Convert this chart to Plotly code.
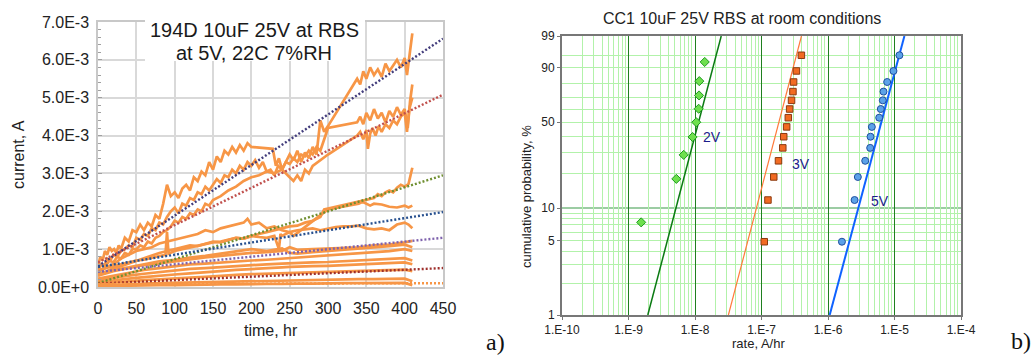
import numpy as np
import plotly.graph_objects as go

FW, FH = 1033, 356

# ---------------- Left chart (a): current vs time, current in mA ----------------
u1_t = [0,3,6,9,12,15,18,21,24,27,30,35,40,45,50,55,60,65,70,75,80,85,90,95,100,105,110,115,120,125,130,135,140,145,150,155,160,165,170,175,180,185,190,195,200,228,232,236,240,245,250,255,260,265,270,275,280,285,290,295,300,338,342,346,350,355,360,365,370,375,380,385,390,395,400,403,406,410]
u1_v = [0.55,0.8,0.7,0.95,0.85,1.05,0.95,1.0,0.9,1.1,1.0,1.3,1.2,1.5,1.45,1.65,1.5,1.7,1.6,1.9,1.8,2.2,2.7,2.4,2.5,2.35,2.6,2.7,2.55,2.9,2.8,3.05,2.95,3.3,3.1,3.45,3.3,3.6,3.5,3.7,3.55,3.75,3.6,3.8,3.7,3.65,3.2,3.4,3.1,3.3,3.5,3.35,3.6,3.3,3.55,3.4,3.7,3.5,4.4,4.1,4.25,5.5,5.35,5.7,5.5,5.8,5.6,5.75,5.55,5.9,5.7,5.85,6.0,5.8,6.05,5.6,6.1,6.7]

u2_t = [0,4,8,12,16,20,25,30,35,40,45,50,55,60,65,70,75,80,85,90,95,100,105,110,115,120,125,130,135,140,145,150,155,160,165,170,175,180,185,190,195,200,205,210,215,220,225,230,235,240,245,250,255,260,265,270,275,280,285,290,295,300,338,342,346,350,355,360,365,370,375,380,385,390,395,400,404,407,410]
u2_v = [0.45,0.6,0.55,0.75,0.7,0.85,0.8,0.95,1.0,1.1,1.05,1.3,1.25,1.4,1.35,1.55,1.5,1.7,1.65,1.85,2.0,2.1,1.95,2.2,2.15,2.35,2.3,2.5,2.45,2.65,2.55,2.7,2.85,2.75,2.95,2.9,3.1,3.0,3.2,3.1,3.3,3.2,3.35,3.15,3.3,3.05,3.1,2.95,3.2,3.1,3.3,3.25,3.4,3.3,3.5,3.45,3.6,3.5,3.7,3.6,3.9,4.2,4.35,4.5,4.3,4.6,4.4,4.7,4.45,4.6,4.35,4.65,4.5,4.75,4.55,4.7,4.2,4.9,5.35]

u3_t = [0,5,10,15,20,25,30,35,40,45,50,55,60,65,70,75,80,85,90,95,100,105,110,115,120,125,130,135,140,145,150,160,170,180,190,200,210,220,230,240,250,255,260,265,270,275,280,290,300,338,342,346,350,352,355,358,362,366,370,375,380,385,390,395,400,403,406,410]
u3_v = [0.5,0.6,0.55,0.7,0.65,0.8,0.75,0.9,0.85,1.0,1.0,1.1,1.05,1.2,1.15,1.3,1.35,1.45,1.5,1.6,1.75,1.7,1.85,1.8,1.95,1.9,2.05,2.0,2.2,2.15,2.3,2.4,2.55,2.65,2.8,2.9,2.95,3.05,3.0,3.1,2.9,2.8,2.95,2.8,3.1,3.0,3.2,3.35,3.5,4.0,4.1,3.9,4.15,3.65,4.05,4.2,4.0,4.25,4.1,4.3,4.2,4.4,4.3,4.5,4.6,4.1,4.7,5.0]

m1_t = [0,10,20,30,40,50,60,70,80,90,100,110,120,130,140,150,160,170,180,190,200,210,220,230,240,250,260,270,280,290,295,360,365,370,375,380,385,390,395,400,405,410]
m1_v = [0.3,0.4,0.5,0.55,0.62,0.7,0.75,0.82,0.9,0.95,1.0,1.05,1.1,1.08,1.15,1.2,1.18,1.25,1.3,1.28,1.35,1.4,1.45,1.5,1.55,1.6,1.62,1.7,1.75,1.85,2.05,2.35,2.45,2.4,2.5,2.55,2.5,2.62,2.7,2.65,2.72,3.15]

m2_t = [0,10,20,30,40,50,60,70,80,90,100,110,120,130,140,150,160,170,180,190,195,200,210,220,230,240,250,255,300,340,345,350,355,360,370,380,390,400,405,410]
m2_v = [0.4,0.5,0.6,0.75,0.85,0.95,1.0,1.05,1.15,1.2,1.25,1.3,1.35,1.4,1.5,1.45,1.55,1.6,1.65,1.7,1.8,1.65,1.7,1.55,1.6,1.5,1.45,1.35,2.05,2.2,2.25,2.2,2.15,2.2,2.18,2.12,2.1,2.15,2.1,2.15]

m3_t = [0,10,20,30,40,50,60,70,80,88,90,92,100,110,120,130,140,150,160,170,180,190,200,210,220,230,236,238,240,250,260,270,280,290,300,310,320,330,340,350,360,370,380,390,400,405,410]
m3_v = [0.45,0.5,0.55,0.6,0.65,0.7,0.72,0.78,0.82,0.85,1.45,0.88,0.95,1.0,1.05,1.1,1.15,1.18,1.2,1.25,1.3,1.28,1.35,1.32,1.3,1.35,1.0,1.4,1.35,1.45,1.5,1.52,1.55,1.5,1.55,1.58,1.6,1.6,1.62,1.55,1.52,1.55,1.5,1.65,1.7,1.65,1.55]

low_t = [0,20,40,60,80,100,120,140,160,180,200,220,240,250,260,280,300,320,340,360,380,400,410]
l1_v = [0.3,0.42,0.5,0.58,0.62,0.68,0.72,0.78,0.82,0.86,0.9,0.92,0.95,1.05,0.98,1.0,1.02,1.03,1.05,1.1,1.12,1.18,1.22]
l2_v = [0.35,0.45,0.52,0.6,0.68,0.72,0.78,0.82,0.88,0.95,1.0,0.95,1.02,0.9,0.88,0.92,0.95,0.98,1.02,1.05,1.08,1.12,1.05]
l3_v = [0.22,0.3,0.38,0.45,0.5,0.55,0.6,0.62,0.65,0.68,0.7,0.72,0.75,0.76,0.78,0.8,0.82,0.85,0.88,0.92,0.95,1.0,0.95]
l4_v = [0.18,0.25,0.3,0.35,0.4,0.44,0.48,0.5,0.53,0.55,0.58,0.6,0.62,0.63,0.64,0.65,0.66,0.68,0.7,0.72,0.74,0.76,0.7]
l5_v = [0.12,0.18,0.22,0.26,0.3,0.33,0.36,0.4,0.42,0.45,0.48,0.5,0.52,0.53,0.54,0.55,0.56,0.58,0.6,0.62,0.63,0.65,0.6]
l6_v = [0.08,0.12,0.15,0.18,0.2,0.23,0.25,0.27,0.3,0.32,0.34,0.35,0.36,0.37,0.38,0.39,0.4,0.41,0.42,0.43,0.44,0.46,0.42]
l7_v = [0.04,0.06,0.08,0.09,0.1,0.11,0.12,0.13,0.14,0.15,0.16,0.17,0.18,0.18,0.19,0.19,0.2,0.2,0.21,0.21,0.22,0.22,0.15]
l8_v = [0.02,0.03,0.04,0.04,0.05,0.05,0.06,0.06,0.07,0.07,0.08,0.08,0.08,0.09,0.09,0.09,0.1,0.1,0.1,0.1,0.11,0.11,0.05]

trend_t = [0, 450]
trend_start = [0.55, 0.65, 0.10, 0.53, 0.40, 0.09, 0.08]
trend_end = [6.56, 5.08, 2.95, 1.98, 1.30, 0.50, 0.10]
trend_colors = ["#433d7c", "#c0504d", "#6f8f31", "#27508f", "#7f62ad", "#9e2f2c", "#f79646"]

left_yticks = [0, 1e-3, 2e-3, 3e-3, 4e-3, 5e-3, 6e-3, 7e-3]
left_ytext = ["0.0E+0", "1.0E-3", "2.0E-3", "3.0E-3", "4.0E-3", "5.0E-3", "6.0E-3", "7.0E-3"]

# ---------------- Right chart (b): Weibull probability plot ----------------
rate_2v = [1.55e-9, 5.24e-9, 6.76e-9, 9.2e-9, 1.045e-8, 1.135e-8, 1.15e-8, 1.16e-8, 1.40e-8]
prob_2v = [7.4, 18.1, 28.7, 39.4, 50.0, 60.6, 71.3, 81.9, 92.6]
rate_3v = [1.10e-7, 1.25e-7, 1.53e-7, 1.80e-7, 2.09e-7, 2.16e-7, 2.39e-7, 2.53e-7, 2.65e-7, 2.83e-7, 2.97e-7, 3.04e-7, 3.35e-7, 3.98e-7]
rate_5v = [1.62e-6, 2.51e-6, 2.81e-6, 3.63e-6, 4.31e-6, 4.36e-6, 4.56e-6, 5.89e-6, 6.22e-6, 6.67e-6, 6.83e-6, 7.76e-6, 9.64e-6, 1.186e-5]
prob_14 = [4.9, 11.8, 18.8, 25.7, 32.6, 39.6, 46.5, 53.5, 60.4, 67.4, 74.3, 81.3, 88.2, 95.1]

fit_prob = [1, 99]
fit_2v = [1.95e-9, 2.48e-8]
fit_3v = [3.18e-8, 3.99e-7]
fit_5v = [1.06e-6, 1.41e-5]

prob_ticks = [1, 5, 10, 50, 90, 99]
prob_minor = [2, 3, 4, 5, 6, 7, 8, 9, 20, 30, 40, 50, 60, 70, 80, 90, 95]
rate_ticks = [1e-10, 1e-9, 1e-8, 1e-7, 1e-6, 1e-5, 1e-4]
rate_text = ["1.E-10", "1.E-9", "1.E-8", "1.E-7", "1.E-6", "1.E-5", "1.E-4"]


def wb(p):
    p = np.asarray(p, dtype=float) / 100.0
    return np.log(-np.log(1.0 - p))


rate_minor = [k * 10.0 ** d for d in range(-10, -4) for k in range(2, 10)]

fig = go.Figure()

ORANGE = "#f79646"
left_series = [(u1_t, u1_v), (u2_t, u2_v), (u3_t, u3_v), (m1_t, m1_v), (m2_t, m2_v), (m3_t, m3_v),
               (low_t, l1_v), (low_t, l2_v), (low_t, l3_v), (low_t, l4_v), (low_t, l5_v),
               (low_t, l6_v), (low_t, l7_v), (low_t, l8_v)]
for t, v in left_series:
    fig.add_trace(go.Scatter(x=t, y=np.array(v) * 1e-3, mode="lines",
                             line=dict(color=ORANGE, width=2.7), xaxis="x", yaxis="y",
                             showlegend=False, hoverinfo="skip"))
for s, e, c in zip(trend_start, trend_end, trend_colors):
    fig.add_trace(go.Scatter(x=trend_t, y=np.array([s, e]) * 1e-3, mode="lines",
                             line=dict(color=c, width=2.4, dash="2px,2px"), xaxis="x", yaxis="y",
                             showlegend=False, hoverinfo="skip"))

# right chart traces
fig.add_trace(go.Scatter(x=fit_2v, y=wb(fit_prob), mode="lines", line=dict(color="#0a7a12", width=1.5),
                         xaxis="x2", yaxis="y2", showlegend=False))
fig.add_trace(go.Scatter(x=fit_3v, y=wb(fit_prob), mode="lines", line=dict(color="#ff7a3a", width=1.2),
                         xaxis="x2", yaxis="y2", showlegend=False))
fig.add_trace(go.Scatter(x=fit_5v, y=wb(fit_prob), mode="lines", line=dict(color="#0f62ff", width=2),
                         xaxis="x2", yaxis="y2", showlegend=False))
fig.add_trace(go.Scatter(x=rate_2v, y=wb(prob_2v), mode="markers",
                         marker=dict(symbol="diamond", size=7, color="#6ee04e", line=dict(color="#1f9a20", width=1)),
                         xaxis="x2", yaxis="y2", showlegend=False))
fig.add_trace(go.Scatter(x=rate_3v, y=wb(prob_14), mode="markers",
                         marker=dict(symbol="square", size=6.5, color="#f26b22", line=dict(color="#8a3a10", width=1)),
                         xaxis="x2", yaxis="y2", showlegend=False))
fig.add_trace(go.Scatter(x=rate_5v, y=wb(prob_14), mode="markers",
                         marker=dict(symbol="circle", size=7, color="#5ca2e8", line=dict(color="#1f4f9f", width=1)),
                         xaxis="x2", yaxis="y2", showlegend=False))

# layout geometry (pixels -> paper)
Lx0, Lx1, Ly0, Ly1 = 98, 443, 22, 287
Rx0, Rx1, Ry0, Ry1 = 562, 961, 36, 315
def px(x):
    return x / FW
def py(y):
    return 1 - y / FH

SANS = "Liberation Sans, Arial, sans-serif"

fig.update_layout(
    width=FW, height=FH, margin=dict(l=0, r=0, t=0, b=0),
    paper_bgcolor="white", plot_bgcolor="white",
    xaxis=dict(domain=[px(Lx0), px(Lx1)], anchor="y", range=[0, 450], dtick=50, tick0=0,
               showgrid=True, gridcolor="#d9d9d9", gridwidth=1.5, zeroline=False,
               showline=True, mirror=True, linecolor="#c8c8c8", linewidth=1.5,
               ticks="", tickfont=dict(family=SANS, size=16, color="#222222"),
               ticklabelstandoff=6, automargin=False),
    yaxis=dict(domain=[py(Ly1), py(Ly0)], anchor="x", range=[0, 7e-3],
               tickvals=left_yticks, ticktext=left_ytext,
               showgrid=True, gridcolor="#d9d9d9", gridwidth=1.5, zeroline=False,
               showline=True, mirror=True, linecolor="#c8c8c8", linewidth=1.5,
               ticks="inside", ticklen=4, tickcolor="#a0a0a0",
               minor=dict(dtick=0.2e-3, ticks="inside", ticklen=3, tickcolor="#a0a0a0", showgrid=False),
               tickfont=dict(family=SANS, size=16, color="#222222"),
               ticklabelstandoff=4, automargin=False),
    xaxis2=dict(domain=[px(Rx0), px(Rx1)], anchor="y2", type="log", range=[-10, -4],
                tickvals=rate_ticks, ticktext=rate_text,
                showgrid=True, gridcolor="#1f801f", gridwidth=1.2, zeroline=False,
                showline=True, mirror=True, linecolor="#777777", linewidth=2,
                ticks="outside", ticklen=3, tickcolor="#777777",
                minor=dict(tickvals=rate_minor, showgrid=True, gridcolor="#b2f2aa", gridwidth=1, ticks=""),
                tickfont=dict(family=SANS, size=12, color="#222222"),
                ticklabelstandoff=0, automargin=False),
    yaxis2=dict(domain=[py(Ry1), py(Ry0)], anchor="x2", range=[float(wb(1)), float(wb(99))],
                tickvals=wb(prob_ticks), ticktext=[str(p) for p in prob_ticks],
                showgrid=False, zeroline=False,
                showline=True, mirror=True, linecolor="#777777", linewidth=2,
                ticks="outside", ticklen=3, tickcolor="#777777",
                minor=dict(tickvals=wb(prob_minor), showgrid=True, gridcolor="#b2f2aa", gridwidth=1, ticks=""),
                tickfont=dict(family=SANS, size=12, color="#222222"),
                ticklabelstandoff=0, automargin=False),
)

shapes = [
    dict(type="rect", xref="paper", yref="paper", x0=px(145), x1=px(365), y0=py(61), y1=py(20),
         fillcolor="white", line=dict(width=0), layer="above"),
    dict(type="line", xref="x2", yref="y2", x0=1e-10, x1=1e-4, y0=float(wb(10)), y1=float(wb(10)),
         line=dict(color="#3a9a48", width=1.2), layer="below"),
]
fig.update_layout(shapes=shapes)

ann = [
    dict(text="194D 10uF 25V at RBS", x=px(254), y=py(30), font=dict(family=SANS, size=20, color="#1a1a1a")),
    dict(text="at 5V, 22C 7%RH", x=px(254), y=py(53), font=dict(family=SANS, size=20, color="#1a1a1a")),
    dict(text="time, hr", x=px(271), y=py(330), font=dict(family=SANS, size=16, color="#222222")),
    dict(text="current, A", x=px(18), y=py(155), textangle=-90, font=dict(family=SANS, size=16, color="#222222")),
    dict(text="CC1 10uF 25V RBS at room conditions", x=px(742), y=py(18), font=dict(family=SANS, size=16, color="#222222")),
    dict(text="rate, A/hr", x=px(758), y=py(343), font=dict(family=SANS, size=13, color="#222222")),
    dict(text="cumulative probability, %", x=px(526), y=py(197), textangle=-90, font=dict(family=SANS, size=13, color="#222222")),
    dict(text="2V", x=px(712), y=py(137), font=dict(family=SANS, size=14, color="#1c1c8a")),
    dict(text="3V", x=px(801), y=py(164), font=dict(family=SANS, size=14, color="#1c1c8a")),
    dict(text="5V", x=px(880), y=py(201), font=dict(family=SANS, size=14, color="#1c1c8a")),
    dict(text="a)", x=px(495), y=py(342), font=dict(family="Liberation Serif, Times New Roman, serif", size=24, color="#111111")),
    dict(text="b)", x=px(1021), y=py(341), font=dict(family="Liberation Serif, Times New Roman, serif", size=24, color="#111111")),
]
for a in ann:
    a.update(xref="paper", yref="paper", showarrow=False, xanchor="center", yanchor="middle")
fig.update_layout(annotations=ann)

fig.write_html("out.html")
